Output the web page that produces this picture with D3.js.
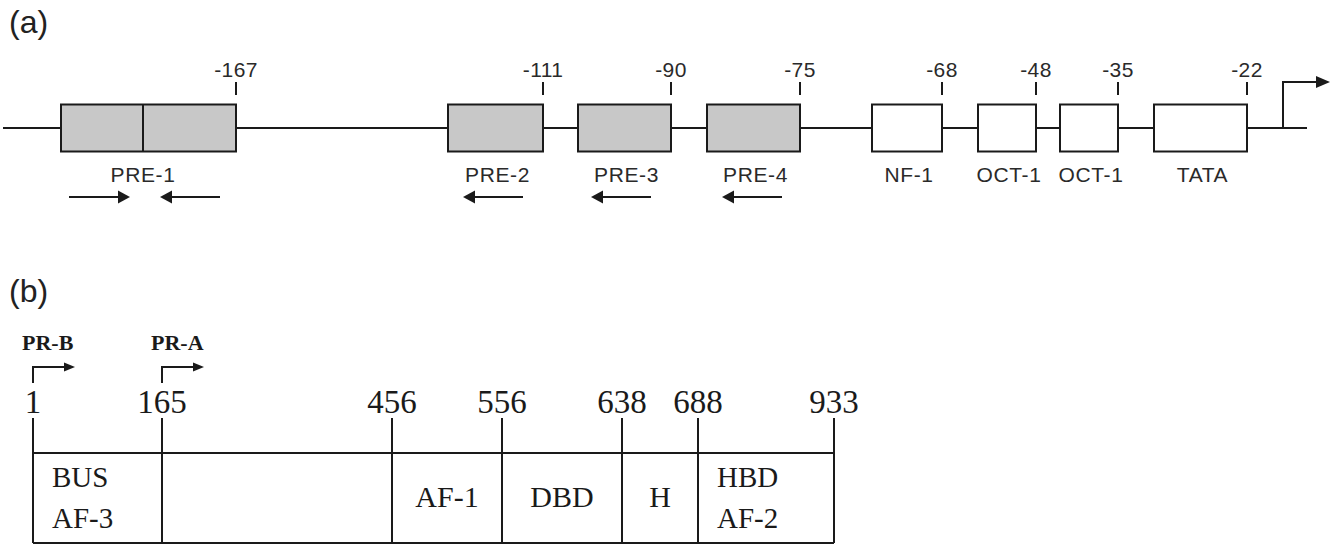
<!DOCTYPE html>
<html lang="en">
<head>
<meta charset="UTF-8">
<title>PR promoter elements and protein domains</title>
<script src="https://d3js.org/d3.v7.min.js"></script>
<style>
  body { margin: 0; background: #fff; }
  .sans { font-family: "Liberation Sans", Arial, sans-serif; }
  .serif { font-family: "Liberation Serif", "Times New Roman", serif; }
</style>
</head>
<body>
<div id="chart"></div>
<script>
// --- panel (a): promoter elements, schematic units (not to scale) ---
const siteNames     = ["PRE-1", "PRE-2", "PRE-3", "PRE-4", "NF-1", "OCT-1", "OCT-1", "TATA"];
const siteKinds     = ["PRE", "PRE", "PRE", "PRE", "other", "other", "other", "other"];
const siteStart     = [6.1, 44.8, 57.8, 70.7, 87.2, 97.8, 106.0, 115.4];
const siteEnd       = [23.6, 54.3, 67.1, 80.0, 94.2, 103.6, 111.8, 124.7];
const siteEndLabels = ["-167", "-111", "-90", "-75", "-68", "-48", "-35", "-22"];
const pre1Split     = 14.3;
const dnaExtent     = [0.3, 130.7];
const tssPos        = 128.3;
const tssTip        = 133.0;
// orientation arrows under the PREs
const arrowFrom     = [6.9, 22.0, 52.3, 65.1, 78.2];
const arrowTo       = [13.0, 16.0, 46.3, 59.1, 72.2];

// --- panel (b): PR protein domains ---
const residues      = [1, 165, 456, 556, 638, 688, 933];
const residuePos    = [3.3, 16.2, 39.2, 50.2, 62.2, 69.8, 83.4];
const domainLabels  = [["BUS", "AF-3"], [], ["AF-1"], ["DBD"], ["H"], ["HBD", "AF-2"]];
const isoformNames  = ["PR-B", "PR-A"];
const isoformStart  = [1, 165];

const W = 1340, H = 546;
const ink = "#1a1a1a";

const svg = d3.select("#chart").append("svg")
    .attr("width", W)
    .attr("height", H);

// one schematic unit = 10px, shared by both panels
const x = d3.scaleLinear().domain([0, 134]).range([0, W]);
const fill = d3.scaleOrdinal().domain(["PRE", "other"]).range(["#c8c8c8", "#ffffff"]);

function arrowHead(g, tipX, y, dir, len, half) {
    g.append("path")
        .attr("d", `M${tipX},${y} L${tipX - dir * len},${y - half} L${tipX - dir * len},${y + half} Z`)
        .attr("fill", ink);
}

// ---------- panel (a) ----------
const ga = svg.append("g");
const yBase = 128, boxH = 47;

ga.append("text").attr("class", "sans")
    .attr("x", 9).attr("y", 33)
    .attr("font-size", 32).attr("fill", "#222")
    .text("(a)");

ga.append("line")
    .attr("x1", x(dnaExtent[0])).attr("x2", x(dnaExtent[1]))
    .attr("y1", yBase).attr("y2", yBase)
    .attr("stroke", ink).attr("stroke-width", 2);

const sites = siteNames.map((name, i) => ({
    name, kind: siteKinds[i], start: siteStart[i], end: siteEnd[i], endLabel: siteEndLabels[i]
}));

ga.selectAll(".site").data(sites).enter().append("rect")
    .attr("class", "site")
    .attr("x", d => x(d.start))
    .attr("y", yBase - boxH / 2)
    .attr("width", d => x(d.end) - x(d.start))
    .attr("height", boxH)
    .attr("fill", d => fill(d.kind))
    .attr("stroke", ink).attr("stroke-width", 2);

ga.append("line")
    .attr("x1", x(pre1Split)).attr("x2", x(pre1Split))
    .attr("y1", yBase - boxH / 2).attr("y2", yBase + boxH / 2)
    .attr("stroke", ink).attr("stroke-width", 2);

// end-position ticks and labels
ga.selectAll(".endTick").data(sites).enter().append("line")
    .attr("x1", d => x(d.end)).attr("x2", d => x(d.end))
    .attr("y1", 82).attr("y2", 95)
    .attr("stroke", ink).attr("stroke-width", 2);

ga.selectAll(".endLabel").data(sites).enter().append("text")
    .attr("class", "sans")
    .attr("x", d => x(d.end)).attr("y", 77)
    .attr("text-anchor", "middle")
    .attr("font-size", 21).attr("letter-spacing", 0.4).attr("fill", "#2a2a2a")
    .text(d => d.endLabel);

ga.selectAll(".siteName").data(sites).enter().append("text")
    .attr("class", "sans")
    .attr("x", (d, i) => i === 0 ? x(pre1Split) : x((d.start + d.end) / 2) + 2)
    .attr("y", 182)
    .attr("text-anchor", "middle")
    .attr("font-size", 21).attr("letter-spacing", 0.6).attr("fill", "#2a2a2a")
    .text(d => d.name);

// orientation arrows
arrowFrom.forEach((from, i) => {
    const to = arrowTo[i];
    const dir = to > from ? 1 : -1;
    ga.append("line")
        .attr("x1", x(from)).attr("x2", x(to) - dir * 10)
        .attr("y1", 197).attr("y2", 197)
        .attr("stroke", ink).attr("stroke-width", 2);
    arrowHead(ga, x(to), 197, dir, 12, 6.5);
});

// transcription start
ga.append("path")
    .attr("d", `M${x(tssPos)},${yBase} V82 H${x(tssTip) - 12}`)
    .attr("fill", "none").attr("stroke", ink).attr("stroke-width", 2);
arrowHead(ga, x(tssTip), 82, 1, 14, 6);

// ---------- panel (b) ----------
const gb = svg.append("g");
const boxTop = 453, boxBottom = 543;
const posOf = r => x(residuePos[residues.indexOf(r)]);

gb.append("text").attr("class", "sans")
    .attr("x", 9).attr("y", 302)
    .attr("font-size", 32).attr("fill", "#222")
    .text("(b)");

// outer box top and bottom; the sides come from the boundary lines
gb.append("line")
    .attr("x1", posOf(residues[0])).attr("x2", posOf(residues[residues.length - 1]))
    .attr("y1", boxTop).attr("y2", boxTop)
    .attr("stroke", ink).attr("stroke-width", 2);
gb.append("line")
    .attr("x1", posOf(residues[0])).attr("x2", posOf(residues[residues.length - 1]))
    .attr("y1", boxBottom).attr("y2", boxBottom)
    .attr("stroke", ink).attr("stroke-width", 2);

gb.selectAll(".bound").data(residues).enter().append("line")
    .attr("x1", d => posOf(d)).attr("x2", d => posOf(d))
    .attr("y1", 418).attr("y2", boxBottom)
    .attr("stroke", ink).attr("stroke-width", 2);

gb.selectAll(".resLabel").data(residues).enter().append("text")
    .attr("class", "serif")
    .attr("x", d => posOf(d)).attr("y", 413)
    .attr("text-anchor", "middle")
    .attr("font-size", 33).attr("fill", ink)
    .text(d => d);

// domain labels
domainLabels.forEach((lines, i) => {
    const x0 = posOf(residues[i]), x1 = posOf(residues[i + 1]);
    if (lines.length === 1) {
        gb.append("text").attr("class", "serif")
            .attr("x", (x0 + x1) / 2).attr("y", 507)
            .attr("text-anchor", "middle")
            .attr("font-size", 30).attr("fill", ink)
            .text(lines[0]);
    } else if (lines.length === 2) {
        lines.forEach((t, j) => {
            gb.append("text").attr("class", "serif")
                .attr("x", x0 + 19).attr("y", 487 + j * 41)
                .attr("font-size", 29).attr("fill", ink)
                .text(t);
        });
    }
});

// isoform start arrows
isoformNames.forEach((name, i) => {
    const px = posOf(isoformStart[i]);
    gb.append("text").attr("class", "serif")
        .attr("x", px - 11).attr("y", 350)
        .attr("font-size", 22).attr("font-weight", "bold").attr("fill", ink)
        .text(name);
    gb.append("path")
        .attr("d", `M${px},383 V367 H${px + 32}`)
        .attr("fill", "none").attr("stroke", ink).attr("stroke-width", 2);
    arrowHead(gb, px + 42, 367, 1, 11, 4.5);
});
</script>
</body>
</html>
